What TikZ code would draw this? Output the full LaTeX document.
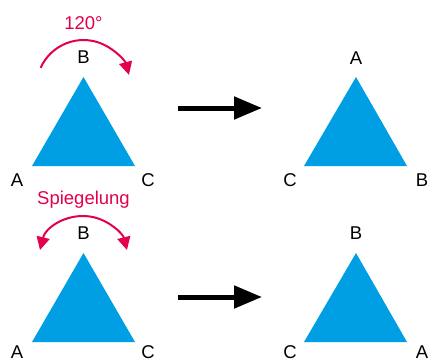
\documentclass[tikz,border=0pt]{standalone}
\usepackage{fontspec}
\setmainfont{Liberation Sans}
\usetikzlibrary{arrows.meta}
\definecolor{triblue}{HTML}{009FE3}
\definecolor{rotred}{HTML}{E2004F}
\tikzset{
  tri/.style={fill=triblue, draw=none},
  lbl/.style={font=\fontsize{18.5}{20}\selectfont, inner sep=0pt, text=black},
  redlbl/.style={font=\fontsize{18.5}{20}\selectfont, inner sep=0pt, text=rotred},
  bigarrow/.style={line width=5pt, -{Triangle[length=28pt,width=22pt]}},
  redarc/.style={draw=rotred, line width=2pt}
}
\begin{document}
\begin{tikzpicture}[x=1pt,y=-1pt]
\useasboundingbox (0,0) rectangle (430,362);
% top left triangle
\coordinate (t1a) at (32,166);
\coordinate (t1b) at (83.5,77);
\coordinate (t1c) at (135,166);
\fill[tri] (t1a) -- (t1b) -- (t1c) -- cycle;
\node[lbl] (l1a) at (17,180) {A};
\node[lbl] (l1b) at (83.5,57) {B};
\node[lbl] (l1c) at (148,180) {C};
\node[redlbl] (rot) at (83.5,23) {120°};
\draw[redarc, -{Triangle[length=13pt,width=13pt]}] (40.6,67.9) arc[start angle=-156, end angle=-15, radius=47];
% top right triangle
\coordinate (t2c) at (304,166);
\coordinate (t2a) at (356,77);
\coordinate (t2b) at (407,166);
\fill[tri] (t2c) -- (t2a) -- (t2b) -- cycle;
\node[lbl] (l2a) at (356,58) {A};
\node[lbl] (l2c) at (290,180) {C};
\node[lbl] (l2b) at (422,180) {B};
\coordinate (ar1s) at (178,108);
\coordinate (ar1e) at (262,108);
\draw[bigarrow] (ar1s) -- (ar1e);
% bottom left triangle
\coordinate (t3a) at (32,342);
\coordinate (t3b) at (83.5,253);
\coordinate (t3c) at (135,342);
\fill[tri] (t3a) -- (t3b) -- (t3c) -- cycle;
\node[lbl] (l3a) at (17,352) {A};
\node[lbl] (l3b) at (83.5,233) {B};
\node[lbl] (l3c) at (148,352) {C};
\node[redlbl] (spieg) at (83.5,200) {Spiegelung};
\draw[redarc, {Triangle[length=13pt,width=13pt]}-{Triangle[length=13pt,width=13pt]}] (40,250) arc[start angle=-166, end angle=-14, radius=44.8];
% bottom right triangle
\coordinate (t4c) at (304,342);
\coordinate (t4b) at (356,253);
\coordinate (t4a) at (407,342);
\fill[tri] (t4c) -- (t4b) -- (t4a) -- cycle;
\node[lbl] (l4b) at (356,233) {B};
\node[lbl] (l4c) at (290,352) {C};
\node[lbl] (l4a) at (422,352) {A};
\coordinate (ar2s) at (178,297);
\coordinate (ar2e) at (262,297);
\draw[bigarrow] (ar2s) -- (ar2e);
\end{tikzpicture}
\end{document}
